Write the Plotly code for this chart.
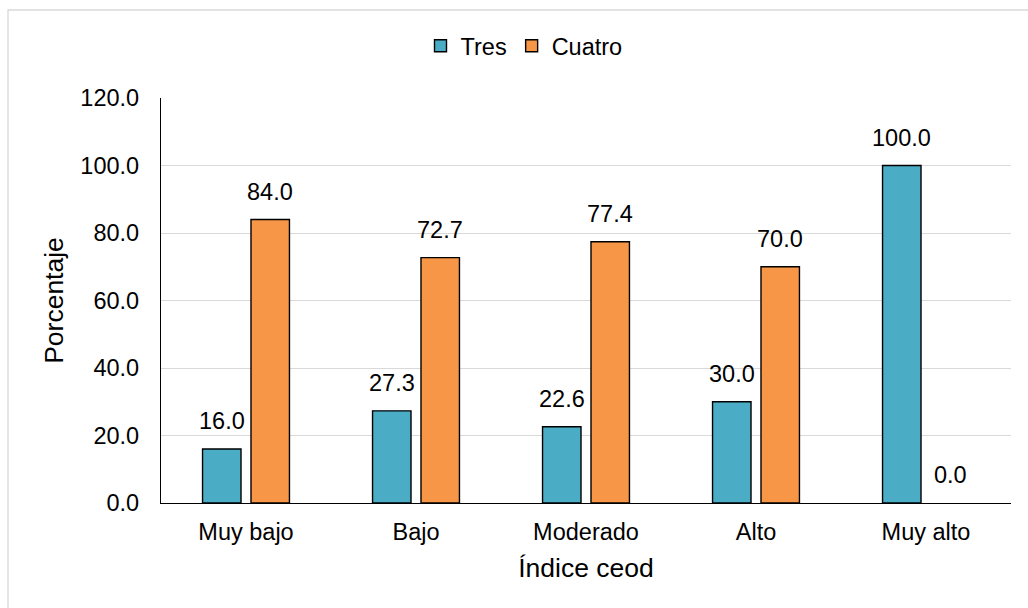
import plotly.graph_objects as go

categories = ["Muy bajo", "Bajo", "Moderado", "Alto", "Muy alto"]
tres = [16.0, 27.3, 22.6, 30.0, 100.0]
cuatro = [84.0, 72.7, 77.4, 70.0, 0.0]
y_ticks = [0, 20, 40, 60, 80, 100, 120]

FONT = "Liberation Sans, Arial, sans-serif"
W, H = 1028, 608
L, R, T, B = 161, 17, 98, 105
PW, PH = W - L - R, H - T - B


def outline_widths(values):
    # no outline on empty bars so nothing is drawn at zero
    return [1.4 if v > 0 else 0 for v in values]


fig = go.Figure()
fig.add_trace(go.Bar(name="Tres", x=categories, y=tres,
                     marker=dict(color="#4BACC6",
                                 line=dict(color="#000000", width=outline_widths(tres)))))
fig.add_trace(go.Bar(name="Cuatro", x=categories, y=cuatro,
                     marker=dict(color="#F79646",
                                 line=dict(color="#000000", width=outline_widths(cuatro)))))

# value labels above each bar
annotations = []
for series, shift in ((tres, -24.25), (cuatro, 24.25)):
    for cat, v in zip(categories, series):
        annotations.append(dict(x=cat, y=v, xref="x", yref="y", text=f"{v:.1f}",
                                showarrow=False, xshift=shift, yshift=28,
                                yanchor="middle", font=dict(size=23.5, color="#000000")))


def px_x(p):
    return (p - L) / PW


def px_y(p):
    return (H - B - p) / PH


# outer chart frame
shapes = [dict(type="rect", xref="paper", yref="paper",
               x0=px_x(8), x1=px_x(1040), y0=px_y(10), y1=px_y(620),
               line=dict(color="#D9D9D9", width=1.3), fillcolor="rgba(0,0,0,0)")]

fig.update_layout(
    width=W, height=H,
    margin=dict(l=L, r=R, t=T, b=B),
    paper_bgcolor="white", plot_bgcolor="white",
    font=dict(family=FONT, size=23.5, color="#000000"),
    barmode="group", bargap=0.43, bargroupgap=0.206,
    annotations=annotations, shapes=shapes,
    legend=dict(orientation="h", x=px_x(524), xanchor="center",
                y=px_y(46), yanchor="middle", font=dict(size=23.5),
                itemwidth=30, traceorder="normal"),
    xaxis=dict(showline=True, linecolor="#000000", linewidth=1.3,
               ticks="", ticklabelstandoff=8,
               title=dict(text="Índice ceod", font=dict(size=26.5), standoff=14)),
    yaxis=dict(range=[0, 120], tickvals=y_ticks, tickformat=".1f",
               showline=True, linecolor="#000000", linewidth=1.3,
               showgrid=True, gridcolor="#D9D9D9", gridwidth=1.3,
               zeroline=False, ticks="", ticklabelstandoff=16,
               title=dict(text="Porcentaje", font=dict(size=26.5), standoff=9)),
)

fig.write_html("out.html")
